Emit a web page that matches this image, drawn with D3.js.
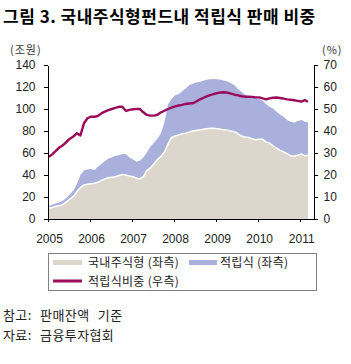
<!DOCTYPE html>
<html><head><meta charset="utf-8">
<script src="https://cdn.jsdelivr.net/npm/d3@7"></script>
<style>
body{margin:0;background:#fff;}
svg{display:block;}
text{font-family:"Liberation Sans",Arial,sans-serif;}
.kr{font-family:"Noto Sans CJK KR","Noto Sans",sans-serif;}
</style></head>
<body>
<svg id="c" width="351" height="364"></svg>
<script>
// ---- data (monthly, Jan 2005 – Mar 2011) ----
const startMonth = "2005-01";
const domestic = [ // 국내주식형 (조원)
  10,10.5,11.5,12,13,15.5,18,20.5,25,28.5,31,31.5,
  32,32.5,33.5,35,36.5,37.5,38,38.5,39.5,40.5,40,39,
  38.5,37,36.5,38.5,44,46.5,50,54,57,61,68,74,
  75.5,76.5,77.5,78,79,80,80.5,81,81.5,82,82.4,82.4,
  82,81.5,81.2,80.8,80,79.4,77.5,75.5,74.5,74,73,72,
  72.5,72.5,70,69,66.5,64.5,62.5,61,59.5,57.5,57,58,
  59,57.5,58];
const installment = [ // 적립식 (조원)
  2,2.5,2.5,3,3.5,3.5,4.5,5.5,7,11.5,13,13.5,
  13.5,12,14,15,16,17.5,18,19,18.5,18.5,18.8,17,
  15.5,15,16.5,17.5,16.5,19.5,19,19,21,27,36,35,
  37,37,38.5,40.5,42.5,43,43.5,43.5,44.2,44.5,44.6,44.9,
  45,45,44.8,44.2,43.5,42.1,40.5,40,38.5,37.5,38,38,
  36.5,35,34.5,33,34,33,32.5,32,30.5,31,30.5,31,
  31,31,30];
const ratio = [ // 적립식비중 (%)
  28.3,29.5,31,32.5,33.5,35,36.5,37.5,39,38,43.5,45.8,
  46.5,46.5,46.8,48,48.8,49.5,50,50.5,51,51,49.1,49.6,
  49.9,50,50,48.5,47.3,47,47,47.4,48.5,49.2,50,50.6,
  51.2,51.6,51.9,52.3,52.5,52.6,53.3,54.3,55,55.7,56.3,56.8,
  57.2,57.5,57.6,57.4,57,56.5,56.2,55.8,55.6,55.6,55.5,55.3,
  55.3,54.8,54.4,54.8,55.1,55.2,55,54.7,54.4,54.2,54,53.7,
  53.4,54,53.3];
const yearTicks = ["2005","2006","2007","2008","2009","2010","2011"];
const leftTicks = [0,20,40,60,80,100,120,140];
const rightTicks = [0,10,20,30,40,50,60,70];
const titleText = "그림 3. 국내주식형펀드내 적립식 판매 비중";
const leftUnit = "(조원)";
const rightUnit = "(%)";
const legendLabels = ["국내주식형 (좌측)","적립식 (좌측)","적립식비중 (우측)"];
const notes = ["참고: 판매잔액 기준","자료: 금융투자협회"];

const colBeige = "#dcd6cc", colBlue = "#a9b0db", colLine = "#9a0b5c";

// ---- build table ----
const parseM = d3.timeParse("%Y-%m");
const months = d3.range(domestic.length).map(i => d3.timeDay.offset(d3.timeMonth.offset(parseM(startMonth), i), 13));
const table = months.map((d,i)=>({date:d, domestic:domestic[i], installment:installment[i], ratio:ratio[i]}));

const svg = d3.select("#c");
svg.append("rect").attr("width",351).attr("height",364).attr("fill","#fff");

const x = d3.scaleTime().domain([new Date(2005,0,1), new Date(2011,4,1)]).range([47.5,313.5]);
const yL = d3.scaleLinear().domain([0,140]).range([219,65]);
const yR = d3.scaleLinear().domain([0,70]).range([219,65]);

// stacked areas
const stack = d3.stack().keys(["domestic","installment"])(table);
const area = d3.area().x(d=>x(d.data.date)).y0(d=>yL(d[0])).y1(d=>yL(d[1]));
svg.append("path").datum(stack[1]).attr("d",area).attr("fill",colBlue);
svg.append("path").datum(stack[0]).attr("d",area).attr("fill",colBeige);
svg.append("path").datum(table)
  .attr("d", d3.line().x(d=>x(d.date)).y(d=>yL(d.domestic)))
  .attr("fill","none").attr("stroke","#fff").attr("stroke-width",1.5);

// ratio line
svg.append("path").datum(table)
  .attr("d", d3.line().x(d=>x(d.date)).y(d=>yR(d.ratio)))
  .attr("fill","none").attr("stroke",colLine).attr("stroke-width",2.4)
  .attr("stroke-linejoin","round");

// axes
function styleAxis(g){
  g.selectAll("path,line").attr("stroke","#000").attr("shape-rendering","crispEdges");
  g.selectAll("text").attr("font-size",12).attr("fill","#222")
   .attr("font-family","'Liberation Sans',Arial,sans-serif");
}
svg.append("g").attr("transform","translate(47.5,0)")
  .call(d3.axisLeft(yL).tickValues(leftTicks).tickSize(4).tickSizeOuter(0).tickPadding(8))
  .call(styleAxis);
svg.append("g").attr("transform","translate(313.5,0)")
  .call(d3.axisRight(yR).tickValues(rightTicks).tickSize(4).tickSizeOuter(0).tickPadding(6))
  .call(styleAxis);
svg.append("g").attr("transform","translate(0,219)")
  .call(d3.axisBottom(x).tickValues(yearTicks.map(y=>new Date(+y,0,1)))
    .tickFormat(d3.timeFormat("%Y")).tickSize(3).tickSizeOuter(0).tickPadding(12))
  .call(styleAxis)
  .selectAll("text").attr("dx",1.5);

// title & units
svg.append("text").attr("class","kr").attr("x",3).attr("y",23)
  .attr("font-size",17).attr("font-weight","bold").attr("letter-spacing",0.5)
  .attr("fill","#000").text(titleText);
svg.append("text").attr("class","kr").attr("x",10).attr("y",54)
  .attr("font-size",11).attr("fill","#333").attr("letter-spacing",1).text(leftUnit);
svg.append("text").attr("class","kr").attr("x",322).attr("y",54)
  .attr("font-size",11).attr("fill","#333").attr("letter-spacing",1).text(rightUnit);

// legend
const lg = svg.append("g");
lg.append("rect").attr("x",48.5).attr("y",253.5).attr("width",268).attr("height",37)
  .attr("fill","#fff").attr("stroke","#808080");
lg.append("rect").attr("x",53).attr("y",260).attr("width",29).attr("height",5).attr("fill",colBeige);
lg.append("rect").attr("x",189).attr("y",260).attr("width",28).attr("height",5).attr("fill",colBlue);
lg.append("line").attr("x1",53).attr("x2",82).attr("y1",281).attr("y2",281)
  .attr("stroke",colLine).attr("stroke-width",3);
[[88,267,0],[220,267,1],[88,286,2]].forEach(([tx,ty,i])=>{
  lg.append("text").attr("class","kr").attr("x",tx).attr("y",ty)
    .attr("font-size",12).attr("fill","#222").attr("letter-spacing",0.3).text(legendLabels[i]);
});

// notes
notes.forEach((t,i)=>{
  svg.append("text").attr("class","kr").attr("x",3).attr("y",320+i*20)
    .attr("font-size",13).attr("fill","#222").attr("letter-spacing",0.4)
    .attr("word-spacing",5).text(t);
});
</script>
</body></html>
